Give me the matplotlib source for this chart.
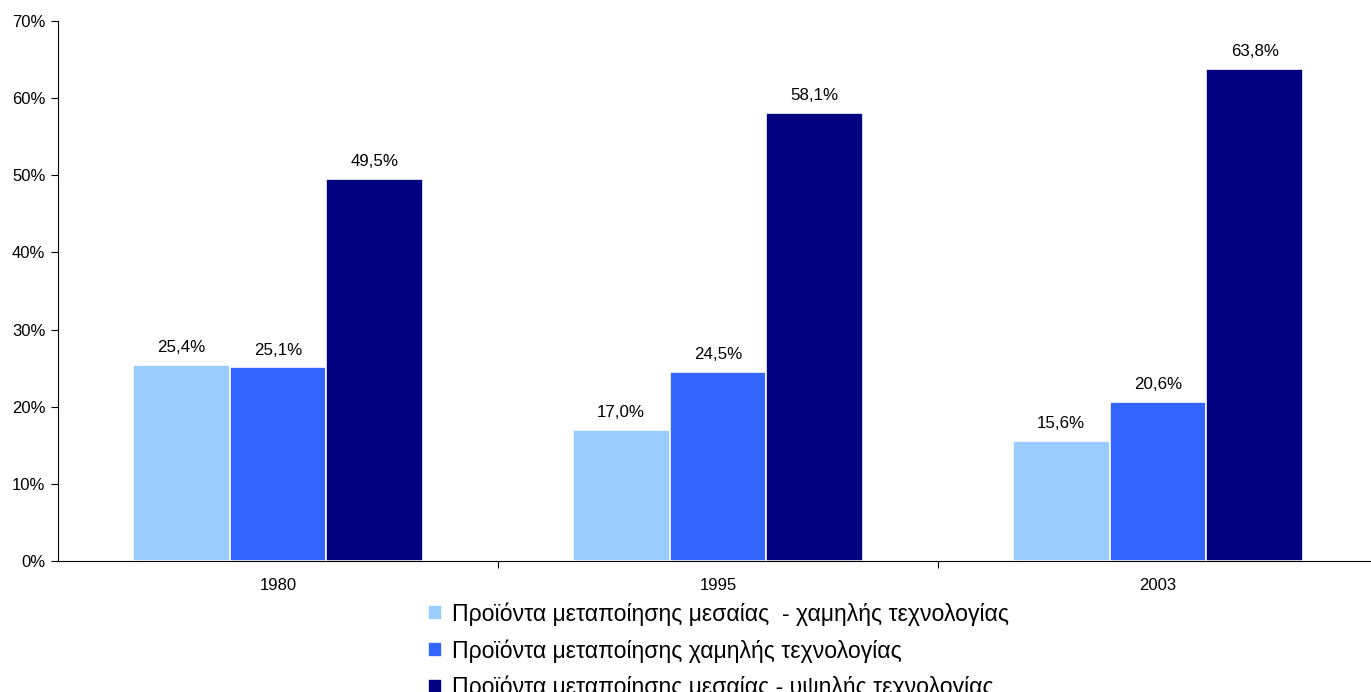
import matplotlib.pyplot as plt
import numpy as np

plt.rcParams["font.family"] = ["Liberation Sans", "DejaVu Sans"]

years = ["1980", "1995", "2003"]
series_names = [
    "Προϊόντα μεταποίησης μεσαίας  - χαμηλής τεχνολογίας",
    "Προϊόντα μεταποίησης χαμηλής τεχνολογίας",
    "Προϊόντα μεταποίησης μεσαίας - υψηλής τεχνολογίας",
]
medium_low = [25.4, 17.0, 15.6]
low = [25.1, 24.5, 20.6]
medium_high = [49.5, 58.1, 63.8]
colors = ["#99CCFF", "#3366FF", "#000080"]

fig = plt.figure(figsize=(13.71, 6.92), dpi=100)
W, H = 1371, 692
ax = fig.add_axes([58 / W, 1 - 561 / H, 1320 / W, 540 / H])

x = np.arange(len(years))
width = 0.22
all_series = [medium_low, low, medium_high]
for i, (vals, col, name) in enumerate(zip(all_series, colors, series_names)):
    bars = ax.bar(x + (i - 1) * width, vals, width, color=col,
                  edgecolor="white", linewidth=1.2, label=name)
    for b, v in zip(bars, vals):
        ax.annotate(f"{v:.1f}%".replace(".", ","),
                    (b.get_x() + b.get_width() / 2, v),
                    xytext=(0, 7), textcoords="offset points",
                    ha="center", va="bottom", fontsize=12.2)

ax.set_xlim(-0.5, 2.5)
ax.set_ylim(0, 70)
ax.set_yticks(range(0, 71, 10))
ax.set_yticklabels([f"{t}%" for t in range(0, 71, 10)], fontsize=12)

ax.set_xticks([0.5, 1.5])
ax.set_xticklabels([])
ax.set_xticks(x, minor=True)
ax.set_xticklabels(years, minor=True, fontsize=12)
ax.tick_params(axis="x", which="minor", length=0, pad=12)
ax.tick_params(axis="x", which="major", length=5, direction="out")
ax.tick_params(axis="y", length=5, direction="out", pad=4)

for s in ["top", "right"]:
    ax.spines[s].set_visible(False)
ax.spines["left"].set_color("black")
ax.spines["bottom"].set_color("black")

fig.legend(loc="upper center", bbox_to_anchor=(0.524, 1 - 593 / H),
           frameon=False, fontsize=16.6, ncol=1,
           handlelength=0.62, handleheight=0.62, handletextpad=0.4,
           labelspacing=0.58, borderaxespad=0)

fig.savefig("out.png", dpi=100)
